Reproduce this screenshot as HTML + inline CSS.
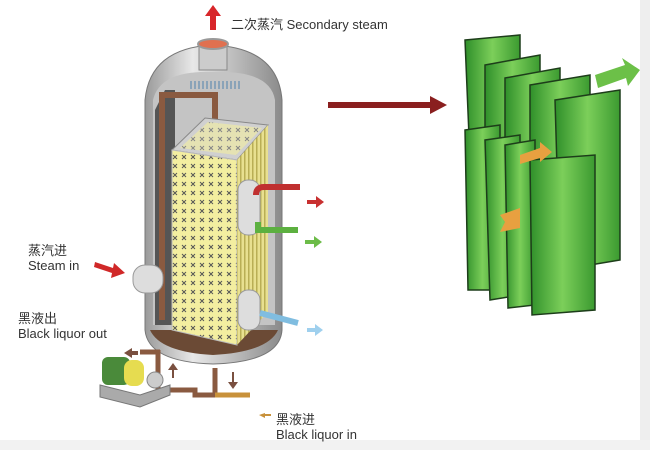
<!DOCTYPE html>
<html><head><meta charset="utf-8"><style>
html,body{margin:0;padding:0;background:#fff;}
svg{display:block}
text{font-family:"Liberation Sans","Noto Sans CJK SC",sans-serif;fill:#333;}
</style></head><body>
<svg width="650" height="450" viewBox="0 0 650 450" xmlns="http://www.w3.org/2000/svg">
<defs>
<linearGradient id="shell" x1="0" x2="1"><stop offset="0" stop-color="#9a9a9a"/><stop offset=".35" stop-color="#e8e8e8"/><stop offset="1" stop-color="#8a8a8a"/></linearGradient>
<linearGradient id="grn" x1="0" x2="1"><stop offset="0" stop-color="#2f8f2a"/><stop offset=".5" stop-color="#7ccf5a"/><stop offset="1" stop-color="#3b9a30"/></linearGradient>
<pattern id="xp" width="9" height="9" patternUnits="userSpaceOnUse"><rect width="9" height="9" fill="#f3eea0"/><path d="M2 2l4 4M6 2l-4 4" stroke="#555" stroke-width="1"/></pattern>
<pattern id="vs" width="4" height="4" patternUnits="userSpaceOnUse"><rect width="4" height="4" fill="#e8e090"/><rect width="1.5" height="4" fill="#b9ae55"/></pattern>
</defs>
<rect x="640" y="0" width="10" height="450" fill="#eee"/>
<rect x="0" y="440" width="650" height="10" fill="#f2f2f2"/>
<path d="M210 30h6v-14h5l-8-11-8 11h5z" fill="#d8262a"/>
<text x="231" y="29" font-size="13">二次蒸汽  Secondary steam</text>
<path d="M145 100 Q150 48 213 45 Q278 48 282 100 L282 330 Q280 362 213 364 Q148 362 145 330Z" fill="url(#shell)" stroke="#777"/>
<path d="M153 100 Q160 70 213 72 Q270 70 275 100 L275 325 L153 325Z" fill="#c4c4c4"/>
<path d="M155 110 L165 90 L175 90 L175 325 L155 325Z" fill="#555"/>
<path d="M150 330 Q160 352 213 355 Q268 352 278 330 Z" fill="#6b4a35"/>
<rect x="199" y="44" width="28" height="26" fill="#ccc" stroke="#888"/>
<ellipse cx="213" cy="44" rx="15" ry="5" fill="#e07050" stroke="#999" stroke-width="2"/>
<path d="M190 85 h50" stroke="#8aa3b8" stroke-width="8" stroke-dasharray="2 2"/>
<path d="M162 320 V95 H215 V120" fill="none" stroke="#8a5a40" stroke-width="6"/>
<path d="M172 150 L205 118 L268 125 L237 160Z" fill="#d0d0d0" stroke="#888"/>
<path d="M180 148 L208 122 L262 128 L236 155Z" fill="url(#xp)" opacity=".6"/>
<path d="M172 150 L237 160 L237 345 L172 330Z" fill="url(#xp)" stroke="#bbb"/>
<path d="M237 160 L268 125 L268 312 L237 345Z" fill="url(#vs)"/>
<rect x="238" y="180" width="22" height="55" rx="10" fill="#ddd" stroke="#999"/>
<rect x="238" y="290" width="22" height="40" rx="10" fill="#ddd" stroke="#999"/>
<rect x="133" y="265" width="30" height="28" rx="12" fill="#ddd" stroke="#999"/>
<path d="M256 195 Q256 187 264 187 H300" fill="none" stroke="#c03030" stroke-width="6"/>
<path d="M258 222 V230 H298" fill="none" stroke="#5cb040" stroke-width="6"/>
<path d="M260 313 L298 323" stroke="#80bde0" stroke-width="6"/>
<path d="M307 200h9v-4l8 6-8 6v-4h-9z" fill="#c83030"/>
<path d="M305 240h9v-4l8 6-8 6v-4h-9z" fill="#6cbc48"/>
<path d="M307 328h8v-4l8 6-8 6v-4h-8z" fill="#9fd0ee"/>
<path d="M95 262 l18 6 1-5 11 10-14 5 1-5-18-6z" fill="#d02828"/>
<text x="28" y="255" font-size="13">蒸汽进</text>
<text x="28" y="270" font-size="13">Steam in</text>
<path d="M158 350 V390 H195 V395 H215 V368" fill="none" stroke="#8a5a40" stroke-width="5"/>
<path d="M140 352 H160" stroke="#8a5a40" stroke-width="5"/>
<path d="M215 395 H250" stroke="#c8913a" stroke-width="5"/>
<path d="M132 348 l-8 5 8 5v-3h6v-4h-6z" fill="#7a5040"/>
<path d="M232 372 v10h-4l5 7 5-7h-4v-10z" fill="#7a5040"/>
<path d="M172 378 v-8h-4l5-7 5 7h-4v8z" fill="#7a5040"/>
<path d="M265 413 l-6 2 6 3v-2h6v-2h-6z" fill="#c8913a"/>
<path d="M100 385 L140 395 L170 385 L170 395 L140 407 L100 397Z" fill="#aaa" stroke="#777"/>
<rect x="102" y="357" width="28" height="28" rx="6" fill="#4a8a3a"/>
<rect x="124" y="360" width="20" height="26" rx="8" fill="#e6dc50"/>
<circle cx="155" cy="380" r="8" fill="#ccc" stroke="#888"/>
<text x="18" y="323" font-size="13">黑液出</text>
<text x="18" y="338" font-size="13">Black liquor out</text>
<text x="276" y="424" font-size="13">黑液进</text>
<text x="276" y="439" font-size="13">Black liquor in</text>
<path d="M328 102 H430 V96 L447 105 L430 114 V108 H328Z" fill="#8a1f1f"/>
<g stroke="#1d3d1a" stroke-width="1.5">
<path d="M465 40 L520 35 L520 150 L470 160Z" fill="url(#grn)"/>
<path d="M485 65 L540 55 L540 180 L485 190Z" fill="url(#grn)"/>
<path d="M505 78 L560 68 L560 200 L505 215Z" fill="url(#grn)"/>
<path d="M530 85 L590 75 L590 230 L530 245Z" fill="url(#grn)"/>
<path d="M555 100 L620 90 L620 260 L560 270Z" fill="url(#grn)"/>
<path d="M465 130 L500 125 L500 290 L468 290Z" fill="url(#grn)"/>
<path d="M485 140 L520 135 L520 295 L490 300Z" fill="url(#grn)"/>
<path d="M505 145 L535 140 L535 305 L508 308Z" fill="url(#grn)"/>
<path d="M530 160 L595 155 L595 310 L532 315Z" fill="url(#grn)"/>
</g>
<path d="M595 75 L625 65 L622 58 L640 70 L628 86 L626 78 L598 88Z" fill="#6cc048"/>
<path d="M520 155 L540 148 L540 142 L552 152 L540 162 L540 158 L520 164Z" fill="#e8a040"/>
<path d="M500 215 L520 208 L520 228 L500 232 L505 222Z" fill="#e8a040"/>
</svg>
</body></html>
